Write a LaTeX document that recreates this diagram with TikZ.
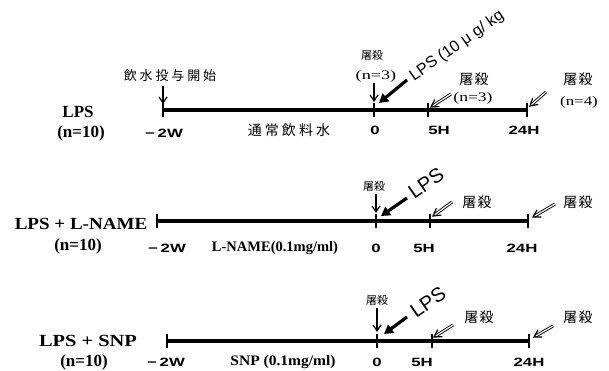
\documentclass[tikz,border=0pt]{standalone}
\usepackage{fontspec}
\setmainfont{Liberation Serif}
\newfontfamily\hv{Liberation Sans}
\newfontfamily\cjk{Noto Sans CJK JP}
\newfontfamily\cjkw[LetterSpace=22]{Noto Sans CJK JP}
\newfontfamily\cjkm[LetterSpace=8]{Noto Sans CJK JP}
\usetikzlibrary{arrows.meta,calc}
\newcommand{\sx}[2]{\scalebox{#1}[1]{#2}}
\newcommand{\dblarrow}[2]{%
  \draw[line width=0.9pt,double,double distance=1.2pt,shorten >=1.5pt] (#1) -- (#2);
  \draw[line width=1.2pt,line cap=round] ($(#2)!8pt!30:(#1)$) -- (#2) -- ($(#2)!8pt!-30:(#1)$);}
\begin{document}
\begin{tikzpicture}[x=1pt,y=-1pt,
  every node/.style={inner sep=0pt, outer sep=0pt},
  timeline/.style={line width=3.5pt},
  tickmark/.style={line width=1.8pt},
  downarr/.style={line width=1.2pt,-{Straight Barb[length=6pt,width=8pt]}},
  bigarr/.style={line width=3.2pt,-{Triangle[length=9pt,width=10pt]}},
  grp/.style={font=\fontsize{17}{17}\selectfont\bfseries},
  cnt/.style={font=\fontsize{17}{17}\selectfont\bfseries},
  hr/.style={font=\fontsize{12}{12}\selectfont\hv\bfseries},
  drug/.style={font=\fontsize{14.5}{14.5}\selectfont\bfseries},
  kill/.style={font=\fontsize{11}{11}\selectfont\cjk},
  killm/.style={font=\fontsize{14}{14}\selectfont\cjkm},
  nn/.style={font=\fontsize{13}{13}\selectfont},
  lpsrot/.style={font=\fontsize{20}{20}\selectfont\hv, rotate=35},
]
\useasboundingbox (0,0) rectangle (609,371);

% ---------------- Row 1 ----------------
\coordinate (r1s) at (163,110);
\coordinate (r1a) at (374,110);
\coordinate (r1b) at (428,110);
\coordinate (r1e) at (527,110);
\draw[timeline] (r1s) -- (r1e);
\foreach \p in {r1s,r1a,r1b,r1e} \draw[tickmark] ([yshift=-7pt]\p) -- ([yshift=7pt]\p);

\node[grp] (g1) at (78,112) {LPS};
\node[cnt] (n1) at (81,133) {(n=10)};
\node[hr] (w1) at (164,133) {\sx{1.4}{−\hspace{2pt}2W}};
\node[font=\fontsize{14}{14}\selectfont\cjkw] (d1) at (289,130) {通常飲料水};
\node[hr] (z1) at (375,130) {\sx{1.4}{0}};
\node[hr] (f1) at (439,130) {\sx{1.4}{5H}};
\node[hr] (t1) at (524,130) {\sx{1.4}{24H}};

\node[font=\fontsize{13}{13}\selectfont\cjkw] (st1) at (170,76) {飲水投与開始};
\coordinate (st1a) at (163,86);
\coordinate (st1b) at (163,104);
\draw[downarr] (st1a) -- (st1b);

\node[kill] (k1a) at (372,55) {屠殺};
\node[nn] (k1an) at (376,76) {\sx{1.4}{(n=3)}};
\coordinate (k1as) at (374,83);
\coordinate (k1ae) at (374,102);
\draw[downarr] (k1as) -- (k1ae);

\coordinate (l1s) at (407,80);
\coordinate (l1e) at (379,103);
\draw[bigarr] (l1s) -- (l1e);
\node[font=\fontsize{16}{16}\selectfont\hv, rotate=35] (l1t) at (457,46) {LPS (10 μ g/ kg};

\node[killm] (k1b) at (474,79) {屠殺};
\node[nn] (k1bn) at (473,98) {\sx{1.35}{(n=3)}};
\coordinate (k1bs) at (451,94);
\coordinate (k1be) at (431,107);
\dblarrow{k1bs}{k1be}

\node[killm] (k1c) at (578,79) {屠殺};
\node[nn] (k1cn) at (579,102) {\sx{1.3}{(n=4)}};
\coordinate (k1cs) at (546,92);
\coordinate (k1ce) at (530,106);
\dblarrow{k1cs}{k1ce}

% ---------------- Row 2 ----------------
\coordinate (r2s) at (157,221);
\coordinate (r2a) at (376,221);
\coordinate (r2b) at (430,221);
\coordinate (r2e) at (528,221);
\draw[timeline] (r2s) -- (r2e);
\foreach \p in {r2s,r2a,r2b,r2e} \draw[tickmark] ([yshift=-7pt]\p) -- ([yshift=7pt]\p);

\node[grp] (g2) at (81,224) {\sx{1.12}{LPS + L-NAME}};
\node[cnt] (n2) at (78,246) {(n=10)};
\node[hr] (w2) at (167,248) {\sx{1.4}{−\hspace{2pt}2W}};
\node[drug] (d2) at (275,248) {L-NAME(0.1mg/ml)};
\node[hr] (z2) at (376,248) {\sx{1.4}{0}};
\node[hr] (f2) at (424,248) {\sx{1.4}{5H}};
\node[hr] (t2) at (522,248) {\sx{1.4}{24H}};

\node[kill] (k2a) at (374,186) {屠殺};
\coordinate (k2as) at (376,194);
\coordinate (k2ae) at (376,213);
\draw[downarr] (k2as) -- (k2ae);

\coordinate (l2s) at (407,198);
\coordinate (l2e) at (381,216);
\draw[bigarr] (l2s) -- (l2e);
\node[lpsrot] (l2t) at (426,183) {LPS};

\node[killm] (k2b) at (477,202) {屠殺};
\coordinate (k2bs) at (452,202);
\coordinate (k2be) at (433,216);
\dblarrow{k2bs}{k2be}

\node[killm] (k2c) at (578,202) {屠殺};
\coordinate (k2cs) at (555,204);
\coordinate (k2ce) at (533,217);
\dblarrow{k2cs}{k2ce}

% ---------------- Row 3 ----------------
\coordinate (r3s) at (167,341);
\coordinate (r3a) at (377,341);
\coordinate (r3b) at (432,341);
\coordinate (r3e) at (529,341);
\draw[timeline] (r3s) -- (r3e);
\foreach \p in {r3s,r3a,r3b,r3e} \draw[tickmark] ([yshift=-7pt]\p) -- ([yshift=7pt]\p);

\node[grp] (g3) at (88,341) {\sx{1.2}{LPS + SNP}};
\node[cnt] (n3) at (84,362) {(n=10)};
\node[hr] (w3) at (166,362) {\sx{1.4}{−\hspace{2pt}2W}};
\node[drug] (d3) at (283,362) {\sx{1.07}{SNP (0.1mg/ml)}};
\node[hr] (z3) at (377,362) {\sx{1.4}{0}};
\node[hr] (f3) at (422,362) {\sx{1.4}{5H}};
\node[hr] (t3) at (529,362) {\sx{1.4}{24H}};

\node[kill] (k3a) at (377,300) {屠殺};
\coordinate (k3as) at (377,308);
\coordinate (k3ae) at (377,332);
\draw[downarr] (k3as) -- (k3ae);

\coordinate (l3s) at (407,317);
\coordinate (l3e) at (384,334);
\draw[bigarr] (l3s) -- (l3e);
\node[lpsrot] (l3t) at (428,302) {LPS};

\node[killm] (k3b) at (479,317) {屠殺};
\coordinate (k3bs) at (453,325);
\coordinate (k3be) at (434,337);
\dblarrow{k3bs}{k3be}

\node[killm] (k3c) at (578,317) {屠殺};
\coordinate (k3cs) at (553,326);
\coordinate (k3ce) at (534,337);
\dblarrow{k3cs}{k3ce}
\end{tikzpicture}
\end{document}
